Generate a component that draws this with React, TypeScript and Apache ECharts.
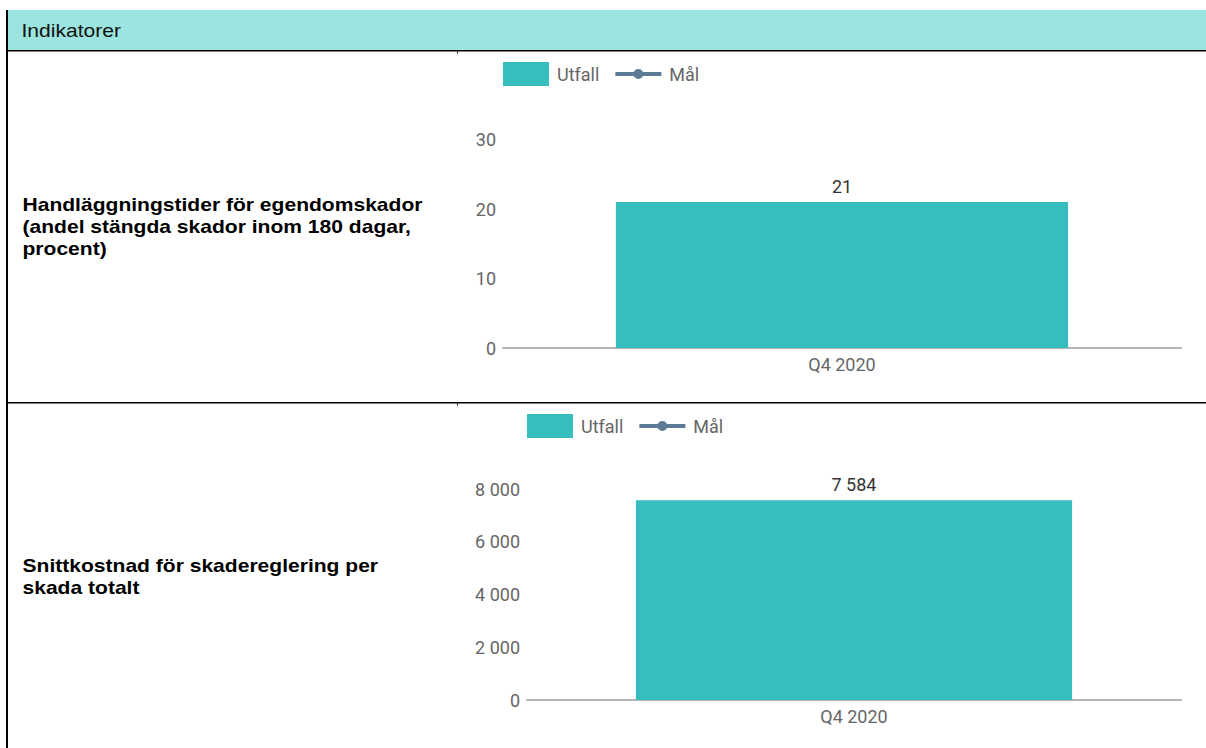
import React, { useEffect, useRef } from 'react';
import * as echarts from 'echarts';

// ---- data ----
const headerTitle = 'Indikatorer';
const indicatorLabels = [
  'Handläggningstider för egendomskador\n(andel stängda skador inom 180 dagar,\nprocent)',
  'Snittkostnad för skadereglering per\nskada totalt',
];
const categories = ['Q4 2020'];
const legendNames = ['Utfall', 'Mål'];
const utfallHandlaggning = [21];
const malHandlaggning: (number | null)[] = [null];
const utfallSnittkostnad = [7584];
const malSnittkostnad: (number | null)[] = [null];
const yMaxValues = [30, 8000];
const yIntervals = [10, 2000];

const ROBOTO = 'Roboto, "Noto Sans", sans-serif';
const ARIAL = '"Liberation Sans", Arial, sans-serif';
const GRAY = '#666666';
const BAR = '#37bdbd';
const GOAL = '#5b7b96';

const fmt = (v: number | string) =>
  String(v).replace(/\B(?=(\d{3})+(?!\d))/g, ' ');

const goalIcon =
  'path://M0 0M46 24M0 10L46 10L46 14L0 14ZM18 12A5 5 0 1 1 28 12A5 5 0 1 1 18 12Z';

function legendFor(left: number, top: number) {
  return {
    left,
    top,
    padding: 0,
    itemWidth: 46,
    itemHeight: 24,
    itemGap: 16,
    data: [
      { name: legendNames[0], icon: 'rect' },
      { name: legendNames[1], icon: goalIcon },
    ],
    textStyle: {
      color: GRAY,
      fontSize: 18,
      fontFamily: ROBOTO,
      padding: [0, 0, 0, 3],
    },
    selectedMode: false,
  };
}

function axisPair(idx: number) {
  const x = {
    type: 'category',
    gridIndex: idx,
    data: categories,
    axisLine: { show: true, lineStyle: { color: '#b5b5b5', width: 2 } },
    axisTick: { show: false },
    axisLabel: { color: GRAY, fontSize: 18, fontFamily: ROBOTO, margin: 7.5 },
    splitLine: { show: false },
  };
  const y = {
    type: 'value',
    gridIndex: idx,
    min: 0,
    max: yMaxValues[idx],
    interval: yIntervals[idx],
    axisLine: { show: false },
    axisTick: { show: false },
    splitLine: { show: false },
    axisLabel: {
      color: GRAY,
      fontSize: 18,
      fontFamily: ROBOTO,
      margin: 7,
      formatter: (v: number) => fmt(v),
    },
  };
  return { x, y };
}

function barSeries(idx: number, data: number[]) {
  return {
    type: 'bar',
    name: legendNames[0],
    xAxisIndex: idx,
    yAxisIndex: idx,
    data,
    barWidth: '66.7%',
    itemStyle: { color: BAR },
    label: {
      show: true,
      position: 'top',
      distance: 7,
      color: '#333333',
      fontSize: 18,
      fontFamily: ROBOTO,
      formatter: (p: any) => fmt(p.value),
    },
  };
}

function goalSeries(idx: number, data: (number | null)[]) {
  return {
    type: 'line',
    name: legendNames[1],
    xAxisIndex: idx,
    yAxisIndex: idx,
    data,
    symbol: 'circle',
    symbolSize: 10,
    itemStyle: { color: GOAL },
    lineStyle: { color: GOAL, width: 4 },
  };
}

export default function App() {
  const ref = useRef<HTMLDivElement>(null);

  useEffect(() => {
    if (!ref.current) return;
    const chart = echarts.init(ref.current, undefined, { renderer: 'svg' });
    const a0 = axisPair(0);
    const a1 = axisPair(1);
    chart.setOption({
      animation: false,
      backgroundColor: '#ffffff',
      grid: [
        { left: 503, right: 25, top: 139.5, bottom: 400, containLabel: false },
        { left: 527, right: 25, top: 489.3, bottom: 48, containLabel: false },
      ],
      xAxis: [a0.x, a1.x],
      yAxis: [a0.y, a1.y],
      legend: [legendFor(503, 62), legendFor(527, 414)],
      series: [
        barSeries(0, utfallHandlaggning),
        goalSeries(0, malHandlaggning),
        barSeries(1, utfallSnittkostnad),
        goalSeries(1, malSnittkostnad),
      ],
      graphic: [
        { type: 'rect', silent: true, shape: { x: 8, y: 10, width: 1198, height: 40 }, style: { fill: '#9be4df' } },
        { type: 'rect', silent: true, shape: { x: 8, y: 50, width: 1198, height: 1.5 }, style: { fill: '#000000' } },
        { type: 'rect', silent: true, shape: { x: 6, y: 10, width: 2, height: 738 }, style: { fill: '#000000' } },
        { type: 'rect', silent: true, shape: { x: 8, y: 402, width: 1198, height: 1.5 }, style: { fill: '#000000' } },
        { type: 'rect', silent: true, shape: { x: 457, y: 51.5, width: 1, height: 2 }, style: { fill: '#000000' } },
        { type: 'rect', silent: true, shape: { x: 457, y: 403.5, width: 1, height: 2 }, style: { fill: '#000000' } },
        {
          type: 'text',
          silent: true,
          x: 21.5,
          y: 31,
          scaleX: 1.17,
          style: {
            text: headerTitle,
            fill: '#111111',
            font: '18px ' + ARIAL,
            verticalAlign: 'middle',
            align: 'left',
          },
        },
        {
          type: 'text',
          silent: true,
          x: 22.5,
          y: 226.5,
          scaleX: 1.17,
          style: {
            text: indicatorLabels[0],
            fill: '#000000',
            font: 'bold 18px ' + ARIAL,
            lineHeight: 22.3,
            verticalAlign: 'middle',
            align: 'left',
          },
        },
        {
          type: 'text',
          silent: true,
          x: 22.5,
          y: 576.5,
          scaleX: 1.17,
          style: {
            text: indicatorLabels[1],
            fill: '#000000',
            font: 'bold 18px ' + ARIAL,
            lineHeight: 22.3,
            verticalAlign: 'middle',
            align: 'left',
          },
        },
      ],
    });
    return () => chart.dispose();
  }, []);

  return (
    <div
      ref={ref}
      style={{ position: 'absolute', left: 0, top: 0, width: 1206, height: 748 }}
    />
  );
}
